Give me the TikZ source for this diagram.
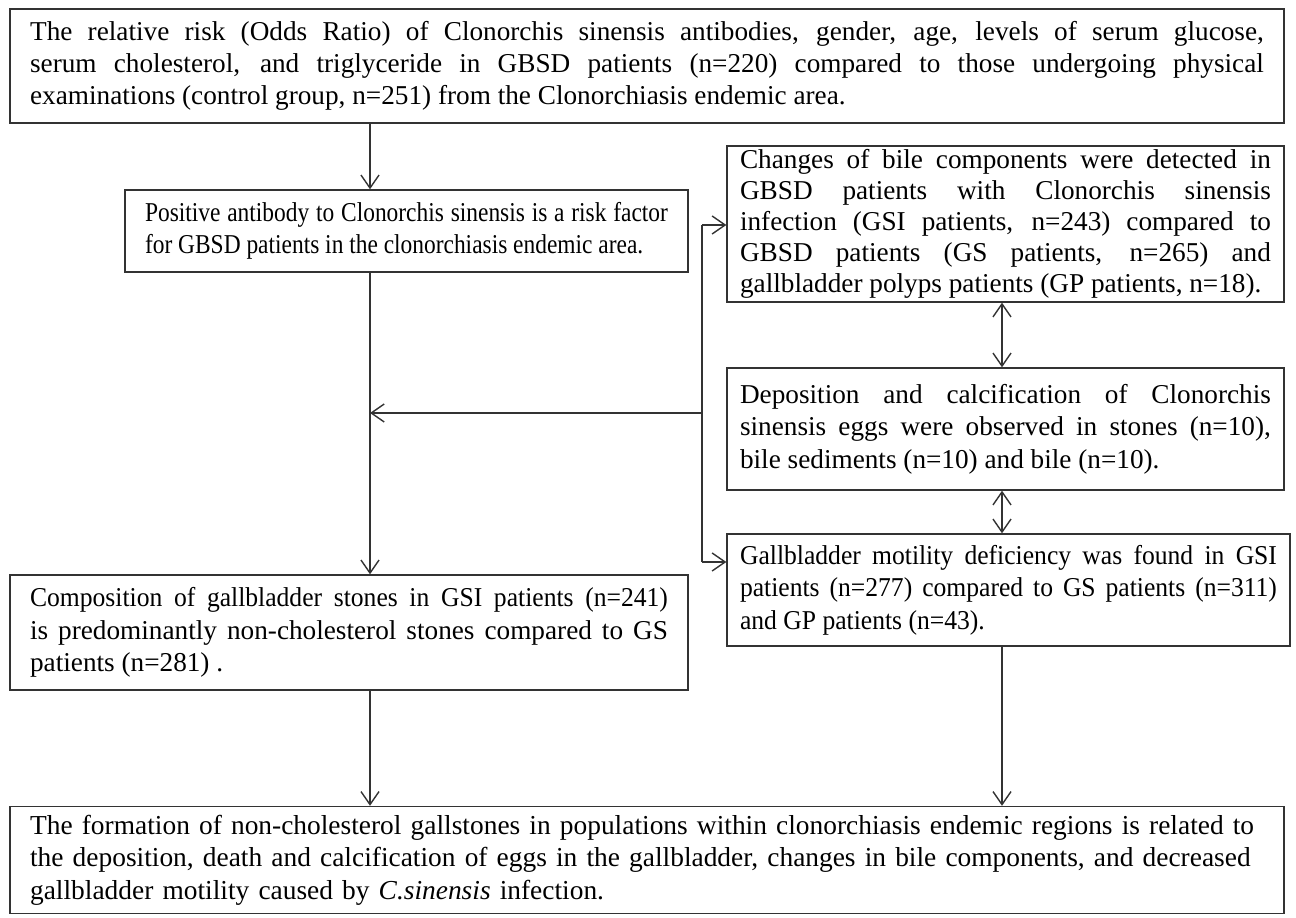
\documentclass[tikz,border=0pt]{standalone}
\usepackage{fontspec}
\setmainfont{Liberation Serif}
\newfontfamily\narrowfont[FakeStretch=0.86]{Liberation Serif}
\newfontfamily\condfont[FakeStretch=0.94]{Liberation Serif}
\usetikzlibrary{arrows.meta, calc}
\hyphenpenalty=10000
\exhyphenpenalty=10000
\hbadness=10000

\begin{document}
\begin{tikzpicture}[x=0.02cm, y=-0.02cm,
	box/.style={draw=black!80, line width=0.8pt, rectangle, inner xsep=0.4cm, inner ysep=0pt,
		align=justify, font=\fontsize{15.5}{18.4}\selectfont},
	side/.style={box, inner xsep=0.26cm},
	arr/.style={draw=black!80, line width=0.8pt, -{Straight Barb[length=2.6mm, width=3.6mm]}},
	darr/.style={draw=black!80, line width=0.8pt, {Straight Barb[length=2.6mm, width=3.6mm]}-{Straight Barb[length=2.6mm, width=3.6mm]}},
	line/.style={draw=black!80, line width=0.8pt}]
	\useasboundingbox (0,0) rectangle (1296,918);

	\node[box, text width=24.68cm, minimum height=2.28cm] (risk) at (647,66) {The relative risk (Odds Ratio) of Clonorchis sinensis antibodies, gender, age, levels of serum glucose,\linebreak serum cholesterol, and triglyceride in GBSD patients (n=220) compared to those undergoing physical\linebreak examinations (control group, n=251) from the Clonorchiasis endemic area.};

	\node[box, text width=10.46cm, minimum height=1.64cm, font=\fontsize{15.5}{18.4}\narrowfont] (antibody) at (406.5,231) {Positive antibody to Clonorchis sinensis is a risk factor\linebreak for GBSD patients in the clonorchiasis endemic area.};

	\node[side, text width=10.62cm, minimum height=3.12cm, font=\fontsize{15.5}{17.6}\selectfont] (bile) at (1005.5,224) {Changes of bile components were detected in\linebreak GBSD patients with Clonorchis sinensis\linebreak infection (GSI patients, n=243) compared to\linebreak GBSD patients (GS patients, n=265) and\linebreak gallbladder polyps patients (GP patients, n=18).};

	\node[side, text width=10.62cm, minimum height=2.44cm] (eggs) at (1005.5,429) {Deposition and calcification of Clonorchis\linebreak sinensis eggs were observed in stones (n=10),\linebreak bile sediments (n=10) and bile (n=10).};

	\node[side, text width=10.74cm, minimum height=2.24cm, font=\fontsize{15.5}{18.4}\condfont] (motility) at (1008.5,590) {Gallbladder motility deficiency was found in GSI\linebreak patients (n=277) compared to GS patients (n=311)\linebreak and GP patients (n=43).};

	\node[box, text width=12.76cm, minimum height=2.3cm] (stones) at (349,632.5) {{\condfont Composition of gallbladder stones in GSI patients (n=241)}\linebreak is predominantly non-cholesterol stones compared to GS\linebreak patients (n=281) .};

	\node[box, align=left, text width=24.68cm, minimum height=2.14cm, font=\fontsize{15.6}{18.6}\selectfont] (formation) at (647,860) {The formation of non-cholesterol gallstones in populations within clonorchiasis endemic regions is related to\\ the deposition, death and calcification of eggs in the gallbladder, changes in bile components, and decreased\\ gallbladder motility caused by \textit{C.sinensis} infection.};

	\coordinate (trunk) at (370,0);
	\coordinate (mid) at (1002,0);
	\coordinate (jtop) at (702,225);
	\coordinate (jmid) at (702,413);
	\coordinate (jbot) at (702,562);

	\draw[arr] (risk.south -| trunk) -- (antibody.north -| trunk);
	\draw[arr] (antibody.south -| trunk) -- (stones.north -| trunk);
	\draw[line] (jtop) -- (jbot);
	\draw[arr] (jtop) -- (bile.west |- jtop);
	\draw[arr] (jbot) -- (motility.west |- jbot);
	\draw[arr] (jmid) -- (trunk |- jmid);
	\draw[darr] (bile.south -| mid) -- (eggs.north -| mid);
	\draw[darr] (eggs.south -| mid) -- (motility.north -| mid);
	\draw[arr] (motility.south -| mid) -- (formation.north -| mid);
	\draw[arr] (stones.south -| trunk) -- (formation.north -| trunk);

\end{tikzpicture}
\end{document}
